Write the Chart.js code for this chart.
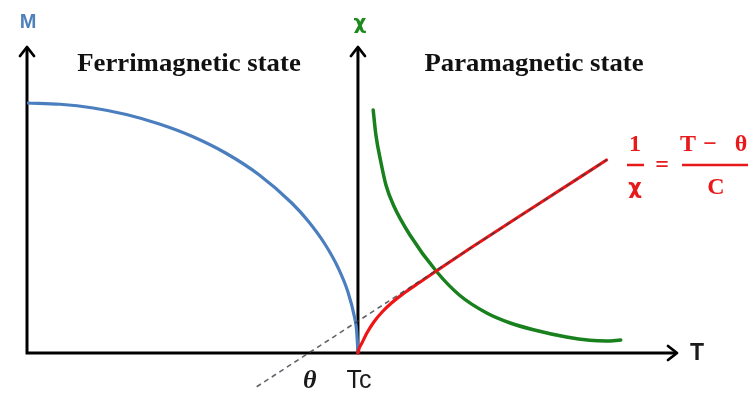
<!DOCTYPE html>
<html>
<head>
<meta charset="utf-8">
<script src="https://cdn.jsdelivr.net/npm/chart.js@4/dist/chart.umd.min.js"></script>
<style>
  html, body { margin: 0; padding: 0; background: #ffffff; }
  #wrap { width: 748px; height: 397px; }
</style>
</head>
<body>
<div id="wrap"><canvas id="c" width="748" height="397"></canvas></div>
<script>
// Temperature axis: 0 at the M axis, Curie temperature Tc = 100
const tempRange = [0, 196.4];
const valueRange = [-16, 122.4];
const curieT = 100;
const thetaT = 85.1;

// Spontaneous magnetization below Tc (ferrimagnetic state)
const magTemp = [0, 10, 20, 30, 40, 50, 60, 70, 80, 85, 90, 94, 97, 99, 99.6, 100];
const magValue = [100, 99.5, 98, 95.4, 91.6, 86.6, 80, 71.4, 60, 52.7, 43.6, 34.1, 24.3, 14.1, 9, 0];

// Susceptibility above Tc
const chiTemp = [104.6, 105.4, 106.9, 108.5, 110.7, 115.7, 123.8, 130.8, 138.9, 146, 153, 163, 170, 175, 179.4];
const chiValue = [97.2, 87.4, 76.5, 67, 59.2, 47.2, 32.5, 23, 16, 12, 9.3, 6.4, 5.1, 4.8, 5.2];

// Inverse susceptibility above Tc
const invTemp = [100, 100.3, 101.2, 102.7, 104.8, 107.3, 110.3, 113.6, 118.7, 124, 133.8, 155, 175.1];
const invValue = [0, 1.6, 4, 8, 12.4, 16.4, 20.2, 23.6, 28.3, 33.1, 41.8, 60, 77.2];

// Curie-Weiss asymptote, extrapolated through θ
const asymTemp = [69.4, 175.1];
const asymValue = [-13.5, 77.2];

const pts = (xs, ys) => xs.map((x, i) => ({ x: x, y: ys[i] }));

function centeredText(ctx, text, cx, cy, stretch) {
  ctx.save();
  ctx.translate(cx, cy);
  ctx.scale(stretch, 1);
  ctx.fillText(text, 0, 0);
  ctx.restore();
}

// Axes with open chevron arrowheads, plus all annotation text
const diagramPlugin = {
  id: 'diagram',
  beforeDatasetsDraw(chart) {
    const { ctx, scales: { x, y } } = chart;
    const x0 = x.getPixelForValue(0);
    const xc = x.getPixelForValue(curieT);
    const xe = x.getPixelForValue(tempRange[1]);
    const y0 = y.getPixelForValue(0);
    const yt = y.getPixelForValue(valueRange[1]);
    ctx.save();
    ctx.strokeStyle = '#000';
    ctx.lineWidth = 3;
    ctx.lineCap = 'butt';
    ctx.lineJoin = 'miter';
    ctx.beginPath();
    ctx.moveTo(x0, yt + 1);
    ctx.lineTo(x0, y0);
    ctx.lineTo(xe - 1, y0);
    ctx.moveTo(xc, yt + 1);
    ctx.lineTo(xc, y0);
    ctx.stroke();
    ctx.lineWidth = 2.8;
    ctx.lineCap = 'round';
    ctx.lineJoin = 'round';
    ctx.beginPath();
    [x0, xc].forEach(px => {
      ctx.moveTo(px - 7, yt + 9);
      ctx.lineTo(px, yt);
      ctx.lineTo(px + 7, yt + 9);
    });
    ctx.moveTo(xe - 9, y0 - 7);
    ctx.lineTo(xe, y0);
    ctx.lineTo(xe - 9, y0 + 7);
    ctx.stroke();
    ctx.restore();
  },
  afterDraw(chart) {
    const { ctx, scales: { x, y } } = chart;
    const x0 = x.getPixelForValue(0);
    const xc = x.getPixelForValue(curieT);
    const xth = x.getPixelForValue(thetaT);
    const xe = x.getPixelForValue(tempRange[1]);
    const y0 = y.getPixelForValue(0);
    ctx.save();
    ctx.textAlign = 'center';
    ctx.textBaseline = 'middle';

    ctx.fillStyle = '#4f81bd';
    ctx.font = 'bold 20px "Liberation Sans", Arial, sans-serif';
    ctx.fillText('M', x0 + 1, 22);
    ctx.fillStyle = '#1e8a1e';
    ctx.font = 'bold 20px "DejaVu Sans", sans-serif';
    ctx.fillText('χ', xc + 2, 24);

    ctx.fillStyle = '#111';
    ctx.font = 'bold 25px "Liberation Serif", "DejaVu Serif", serif';
    centeredText(ctx, 'Ferrimagnetic state', 189, 65, 1.07);
    centeredText(ctx, 'Paramagnetic state', 534, 65, 1.07);

    ctx.fillStyle = '#1a1a1a';
    ctx.font = 'bold 23px "Liberation Sans", Arial, sans-serif';
    ctx.fillText('T', xe + 20, y0 + 1);
    ctx.font = '25px "Liberation Sans", Arial, sans-serif';
    ctx.fillText('Tc', xc + 1, y0 + 28);
    ctx.font = 'bold italic 26px "Liberation Serif", "DejaVu Serif", serif';
    ctx.fillText('θ', xth + 1, y0 + 28);

    // 1/χ = (T − θ)/C
    ctx.fillStyle = '#e8191b';
    ctx.strokeStyle = '#e8191b';
    ctx.lineWidth = 2.5;
    ctx.font = 'bold 24px "Liberation Serif", "DejaVu Serif", serif';
    ctx.fillText('1', 635, 145);
    ctx.fillText('=', 662, 166);
    ctx.fillText('T', 688, 145);
    ctx.fillText('−', 710, 145);
    ctx.fillText('θ', 741, 145);
    ctx.fillText('C', 716, 188);
    ctx.font = 'bold 21px "DejaVu Sans", sans-serif';
    ctx.fillText('χ', 635, 189);
    ctx.beginPath();
    ctx.moveTo(627, 165);
    ctx.lineTo(644, 165);
    ctx.moveTo(682, 165);
    ctx.lineTo(750, 165);
    ctx.stroke();
    ctx.restore();
  }
};

new Chart(document.getElementById('c'), {
  type: 'scatter',
  data: {
    datasets: [
      {
        label: 'M',
        data: pts(magTemp, magValue),
        showLine: true,
        borderColor: '#4a7ebf',
        borderWidth: 3.2,
        pointRadius: 0,
        cubicInterpolationMode: 'monotone',
        order: 3
      },
      {
        label: 'χ',
        data: pts(chiTemp, chiValue),
        showLine: true,
        borderColor: '#18801c',
        borderWidth: 3.5,
        pointRadius: 0,
        cubicInterpolationMode: 'monotone',
        borderCapStyle: 'round',
        order: 2
      },
      {
        label: '1/χ',
        data: pts(invTemp, invValue),
        showLine: true,
        borderColor: '#f01414',
        borderWidth: 3.2,
        pointRadius: 0,
        cubicInterpolationMode: 'monotone',
        borderCapStyle: 'round',
        order: 1
      },
      {
        label: 'asymptote',
        data: pts(asymTemp, asymValue),
        showLine: true,
        borderColor: 'rgba(60,60,70,0.8)',
        borderWidth: 1.6,
        borderDash: [5, 4],
        pointRadius: 0,
        order: 0
      }
    ]
  },
  options: {
    responsive: false,
    animation: false,
    events: [],
    layout: { padding: { left: 27, right: 71, top: 47, bottom: 4 } },
    plugins: { legend: { display: false }, tooltip: { enabled: false } },
    scales: {
      x: { type: 'linear', min: tempRange[0], max: tempRange[1], display: false },
      y: { type: 'linear', min: valueRange[0], max: valueRange[1], display: false }
    }
  },
  plugins: [diagramPlugin]
});
</script>
</body>
</html>
